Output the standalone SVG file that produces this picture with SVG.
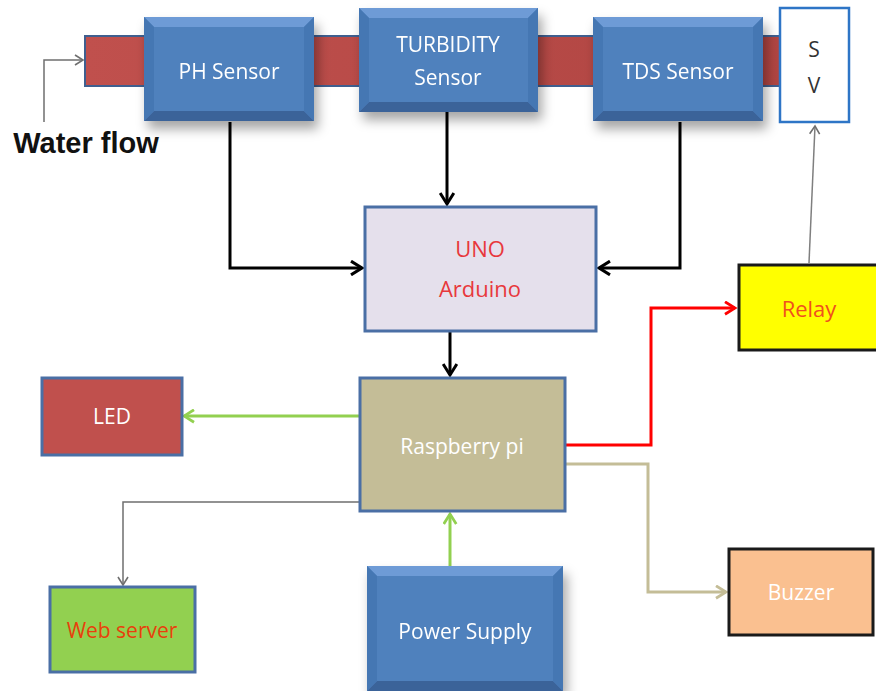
<svg xmlns="http://www.w3.org/2000/svg" width="876" height="691" viewBox="0 0 876 691">
<defs>
<filter id="sh" x="-20%" y="-20%" width="150%" height="160%">
<feDropShadow dx="4" dy="8" stdDeviation="6" flood-color="#000" flood-opacity="0.35"/>
</filter>
<linearGradient id="pipeg" x1="0" y1="0" x2="1" y2="0">
<stop offset="0" stop-color="#c0504d"/><stop offset="1" stop-color="#b04542"/>
</linearGradient>
<marker id="ablack" viewBox="0 0 12 12" refX="10" refY="6" markerWidth="5.5" markerHeight="5.5" orient="auto" markerUnits="strokeWidth">
<polyline points="2,1 10,6 2,11" fill="none" stroke="#000" stroke-width="2.2"/>
</marker>
<marker id="agreen" viewBox="0 0 12 12" refX="10" refY="6" markerWidth="5" markerHeight="5" orient="auto" markerUnits="strokeWidth">
<polyline points="2,1 10,6 2,11" fill="none" stroke="#92d050" stroke-width="2.2"/>
</marker>
<marker id="ared" viewBox="0 0 12 12" refX="10" refY="6" markerWidth="5" markerHeight="5" orient="auto" markerUnits="strokeWidth">
<polyline points="2,1 10,6 2,11" fill="none" stroke="#ff0000" stroke-width="2.2"/>
</marker>
<marker id="atan" viewBox="0 0 12 12" refX="10" refY="6" markerWidth="5" markerHeight="5" orient="auto" markerUnits="strokeWidth">
<polyline points="2,1 10,6 2,11" fill="none" stroke="#c4bd97" stroke-width="2.2"/>
</marker>
<marker id="agray" viewBox="0 0 12 12" refX="10" refY="6" markerWidth="8" markerHeight="8" orient="auto" markerUnits="strokeWidth">
<polyline points="2,1 10,6 2,11" fill="none" stroke="#6f6f6f" stroke-width="1.6"/>
</marker>
</defs>
<style>
text{font-family:"Open Sans","Liberation Sans",sans-serif;text-anchor:middle;dominant-baseline:central;font-size:21px}
.w{fill:#fff}
.big{font-size:22px}
.wf{font-family:"Liberation Sans",Arial,sans-serif;font-weight:bold;font-size:29px;fill:#111}
.bev{fill:#4f81bd}
.lt{fill:#6e9bd6}
.dk{fill:#3a6399}
.sd{fill:#4577b3}
.box{stroke:#4a6fa5;stroke-width:3}
</style>
<rect width="876" height="691" fill="#fff"/>

<g id="pipe">
<rect x="85" y="36" width="700" height="50" fill="url(#pipeg)" stroke="#3f5f8f" stroke-width="2"/>
</g>

<g id="connectors" fill="none">
<polyline points="44,122 44,60 83,60" stroke="#6f6f6f" stroke-width="1.5" marker-end="url(#agray)"/>
<polyline points="230,122 230,268 362,268" stroke="#000" stroke-width="3" marker-end="url(#ablack)"/>
<polyline points="447,112 447,204" stroke="#000" stroke-width="3" marker-end="url(#ablack)"/>
<polyline points="680,122 680,268 599,268" stroke="#000" stroke-width="3" marker-end="url(#ablack)"/>
<polyline points="450,331 450,375" stroke="#000" stroke-width="3" marker-end="url(#ablack)"/>
<polyline points="360,416 184,416" stroke="#92d050" stroke-width="3" marker-end="url(#agreen)"/>
<polyline points="360,502 123,502 123,585" stroke="#6f6f6f" stroke-width="1.5" marker-end="url(#agray)"/>
<polyline points="450,566 450,514" stroke="#92d050" stroke-width="3" marker-end="url(#agreen)"/>
<polyline points="566,445 651,445 651,308 735,308" stroke="#ff0000" stroke-width="3" marker-end="url(#ared)"/>
<polyline points="566,464 648,464 648,592 726,592" stroke="#c4bd97" stroke-width="3" marker-end="url(#atan)"/>
<polyline points="809,263 815,126" stroke="#7f7f7f" stroke-width="1.5" marker-end="url(#agray)"/>
</g>

<g id="ph-sensor" filter="url(#sh)">
<rect x="144" y="17" width="170" height="104" class="bev"/>
<polygon points="144,17 314,17 304,27 154,27" class="lt"/>
<polygon points="144,121 314,121 304,111 154,111" class="dk"/>
<polygon points="144,17 154,27 154,111 144,121" class="sd"/>
<polygon points="314,17 304,27 304,111 314,121" class="sd"/>
<text x="229" y="71" class="w">PH Sensor</text>
</g>

<g id="turbidity-sensor" filter="url(#sh)">
<rect x="359" y="8" width="179" height="104" class="bev"/>
<polygon points="359,8 538,8 528,18 369,18" class="lt"/>
<polygon points="359,112 538,112 528,102 369,102" class="dk"/>
<polygon points="359,8 369,18 369,102 359,112" class="sd"/>
<polygon points="538,8 528,18 528,102 538,112" class="sd"/>
<text x="448" y="44" class="w">TURBIDITY</text>
<text x="448" y="77" class="w">Sensor</text>
</g>

<g id="tds-sensor" filter="url(#sh)">
<rect x="593" y="17" width="170" height="104" class="bev"/>
<polygon points="593,17 763,17 753,27 603,27" class="lt"/>
<polygon points="593,121 763,121 753,111 603,111" class="dk"/>
<polygon points="593,17 603,27 603,111 593,121" class="sd"/>
<polygon points="763,17 753,27 753,111 763,121" class="sd"/>
<text x="678" y="71" class="w">TDS Sensor</text>
</g>

<g id="sv">
<rect x="780" y="8" width="69" height="114" fill="#fff" stroke="#2e75c6" stroke-width="2.5"/>
<text x="814" y="49" fill="#333">S</text>
<text x="814" y="85" fill="#333">V</text>
</g>

<g id="water-flow">
<text x="86" y="143" class="wf">Water flow</text>
</g>

<g id="arduino">
<rect x="365" y="207" width="231" height="124" fill="#e5e0ec" class="box"/>
<text x="480" y="248" fill="#e8383c" class="big">UNO</text>
<text x="480" y="288" fill="#e8383c" class="big">Arduino</text>
</g>

<g id="raspberry-pi">
<rect x="360" y="378" width="205" height="133" fill="#c4bd97" class="box"/>
<text x="462" y="446" class="w">Raspberry pi</text>
</g>

<g id="led">
<rect x="42" y="378" width="140" height="77" fill="#c0504d" class="box"/>
<text x="112" y="416" class="w">LED</text>
</g>

<g id="web-server">
<rect x="50" y="587" width="145" height="85" fill="#92d050" class="box"/>
<text x="122" y="630" fill="#e8400c">Web server</text>
</g>

<g id="power-supply" filter="url(#sh)">
<rect x="367" y="566" width="196" height="125" class="bev"/>
<polygon points="367,566 563,566 553,576 377,576" class="lt"/>
<polygon points="367,691 563,691 553,681 377,681" class="dk"/>
<polygon points="367,566 377,576 377,681 367,691" class="sd"/>
<polygon points="563,566 553,576 553,681 563,691" class="sd"/>
<text x="465" y="631" class="w">Power Supply</text>
</g>

<g id="relay">
<rect x="739" y="265" width="140" height="85" fill="#ffff00" stroke="#1a1a1a" stroke-width="3"/>
<text x="809" y="308" fill="#f0501e" class="big">Relay</text>
</g>

<g id="buzzer">
<rect x="729" y="549" width="144" height="86" fill="#fac090" stroke="#1a1a1a" stroke-width="3"/>
<text x="801" y="592" class="w">Buzzer</text>
</g>
</svg>
